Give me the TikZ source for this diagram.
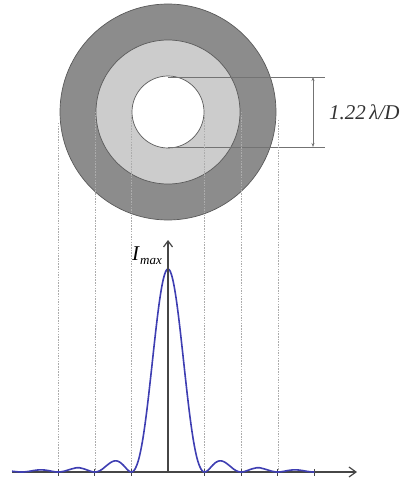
\documentclass[tikz,border=0pt]{standalone}
\usepackage{fontspec}
\setmainfont{Liberation Serif}
\usetikzlibrary{arrows.meta}
\definecolor{ringdark}{RGB}{140,140,140}
\definecolor{ringlight}{RGB}{204,204,204}
\definecolor{edgegray}{RGB}{90,90,90}
\definecolor{axisgray}{RGB}{70,70,70}
\definecolor{curveblue}{RGB}{62,62,178}
\tikzset{
  ring/.style={draw=edgegray, line width=0.7pt},
  guide/.style={draw=gray!65, line width=0.55pt, dash pattern=on 1.5pt off 1.2pt},
  dimline/.style={draw=black!55, line width=0.8pt},
  axisline/.style={draw=axisgray, line width=1.3pt},
  tick/.style={draw=axisgray, line width=0.9pt},
}
\begin{document}
\begin{tikzpicture}[x=1pt,y=-1pt]
\useasboundingbox (0,0) rectangle (410,481);
% rings
\fill[ringdark] (168,112) circle (108);
\draw[ring] (168,112) circle (108);
\fill[ringlight] (168,112) circle (72);
\draw[ring] (168,112) circle (72);
\fill[white] (168,112) circle (36);
\draw[ring] (168,112) circle (36);
% coordinates
\coordinate (c) at (168,112);
\coordinate (dt0) at (168,77);
\coordinate (dt1) at (325,77);
\coordinate (db0) at (168,147);
\coordinate (db1) at (325,147);
\coordinate (at) at (313,77);
\coordinate (ab) at (313,147);
% dimension lines
\draw[dimline] (dt0) -- (dt1);
\draw[dimline] (db0) -- (db1);
\draw[dimline, line width=0.6pt, {Stealth[length=4pt,width=3pt]}-{Stealth[length=4pt,width=3pt]}] (at) -- (ab);
\node[anchor=west, text=black!80, font=\fontsize{21}{23}\selectfont\itshape, inner sep=0pt] (lbl) at (329,112) {1.22\,λ/D};
% guide lines
\foreach \k/\ys in {-3/123,-2/112,-1/112,1/112,2/112,3/120}{
  \coordinate (gt\k) at ({168+36.6*\k},\ys);
  \coordinate (gb\k) at ({168+36.6*\k},472);
  \draw[guide] (gt\k) -- (gb\k);
}
% axes
\coordinate (xo) at (12,472);
\coordinate (xe) at (357,472);
\coordinate (yo) at (168,472);
\coordinate (ye) at (168,240);
\draw[axisline, -{Straight Barb[length=7pt,width=10pt,line width=1.2pt]}] (xo) -- (xe);
\foreach \k in {-3,-2,-1,1,2,3,4}{
  \coordinate (tk\k) at ({168+36.6*\k},472);
  \draw[tick] ([yshift=-3.5pt]tk\k) -- ([yshift=3.5pt]tk\k);
}
% curve
\draw[curveblue, line width=1.6pt, line join=round]
  plot[domain=-4.2613:4.0, samples=401, smooth]
  ({168+36.6*\x}, {472 - 203*(abs(sin(180*\x)/(3.14159*\x)))^1.9});
\draw[axisline, -{Straight Barb[length=6pt,width=9pt,line width=1.2pt]}] (yo) -- (ye);
% I_max label
\node[anchor=base west, inner sep=0pt, font=\fontsize{21}{22}\selectfont\itshape] (imax) at (132,260) {I\hspace{1pt}\raisebox{-4pt}{\fontsize{13}{14}\selectfont max}};
\end{tikzpicture}
\end{document}
